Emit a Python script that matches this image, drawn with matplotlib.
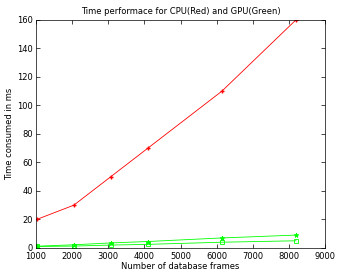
import matplotlib
matplotlib.use("Agg")
import matplotlib.pyplot as plt

frames = [1024, 2048, 3072, 4096, 6144, 8192]
cpu_time = [20, 30, 50, 70, 110, 160]
gpu_time_a = [1.2, 2.2, 3.5, 4.5, 7.0, 9.0]
gpu_time_b = [1.0, 1.3, 2.0, 2.5, 4.0, 5.0]

xticks = [1000, 2000, 3000, 4000, 5000, 6000, 7000, 8000, 9000]
yticks = [0, 20, 40, 60, 80, 100, 120, 140, 160]

fig = plt.figure(figsize=(3.39, 2.77), dpi=100)
ax = fig.add_axes([0.106, 0.105, 0.853, 0.823])
ax.plot(frames, cpu_time, color="red", lw=0.6, marker="+", ms=3.5, mew=1.0)
ax.plot(frames, gpu_time_a, color="#00ff00", lw=0.6, marker="*", ms=3.5, mew=0.6)
ax.plot(frames, gpu_time_b, color="#00ff00", lw=0.6, marker="s", ms=3.5, mfc="none", mew=0.6)
ax.set_xlim(1000, 9000)
ax.set_ylim(0, 160)
ax.set_xticks(xticks)
ax.set_yticks(yticks)
ax.tick_params(labelsize=6, direction="in", length=3, width=0.5, top=True, right=True)
ax.tick_params(axis="x", pad=3)
ax.tick_params(axis="y", pad=2)
for s in ax.spines.values():
    s.set_linewidth(0.5)
ax.set_title("Time performace for CPU(Red) and GPU(Green)", fontsize=6, pad=4)
ax.set_xlabel("Number of database frames", fontsize=6, labelpad=1)
ax.set_ylabel("Time consumed in ms", fontsize=6, labelpad=2)
fig.savefig("out.png", dpi=100)
